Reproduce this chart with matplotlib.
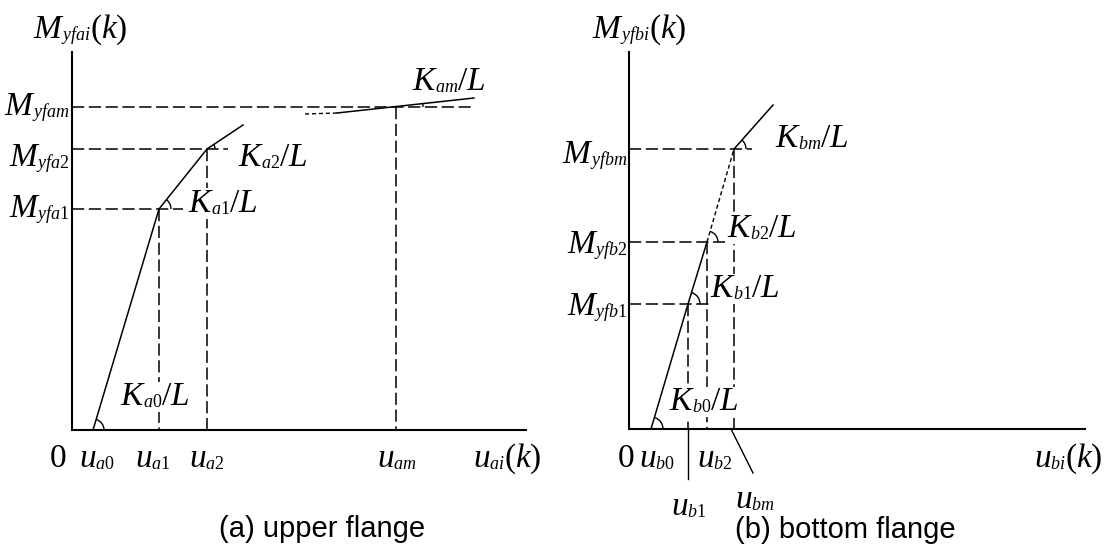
import numpy as np
import matplotlib
matplotlib.use('Agg')
import matplotlib.pyplot as plt
from matplotlib.patches import Arc, Rectangle
from matplotlib.transforms import offset_copy, Bbox

plt.rcParams['font.family'] = 'Liberation Serif'
plt.rcParams['mathtext.fontset'] = 'custom'
plt.rcParams['mathtext.rm'] = 'Liberation Serif'
plt.rcParams['mathtext.it'] = 'Liberation Serif:italic'

# upper flange: u_a0, u_a1, u_a2, u_am and M_yfa1, M_yfa2, M_yfam
u_a = [2.1, 8.7, 13.5, 32.4]
M_a = [22.1, 28.1, 32.3]
a_tail = [17.1, 30.5]                 # end of the K_a2 branch
am_u = [23.3, 26.5, 40.2]             # K_am branch (dotted part, then solid)
am_M = [31.6, 31.7, 33.2]
a_guide = [11.1, 15.6, 40.1]          # right end of the horizontal dashes

# bottom flange: u_b0, u_b1, u_b2, u_bm and M_yfb1, M_yfb2, M_yfbm
u_b = [2.2, 5.9, 7.8, 10.5]
M_b = [12.5, 18.7, 28.0]
b_tail = [14.4, 32.4]
b_guide = [8.2, 9.6, 12.3]

BIG, SUB = 24, 13
KERN = {'M': -3.0, 'K': -2.5, 'u': -1.2}   # pull the subscript under the letter
dash = (0, (8, 3))
short = (0, (3, 2))

fig = plt.figure(figsize=(11.07, 5.46), dpi=100)
renderer = fig.canvas.get_renderer()


def setup(ax, xmax, ymax):
    ax.set_xlim(0, xmax)
    ax.set_ylim(0, ymax)
    for s in ['top', 'right']:
        ax.spines[s].set_visible(False)
    for s in ['left', 'bottom']:
        ax.spines[s].set_linewidth(1.5)
    ax.set_xticks([])
    ax.set_yticks([])
    ax.patch.set_alpha(0)


def ang(p, q):
    return np.degrees(np.arctan2(q[1] - p[1], q[0] - p[0]))


def arc(ax, p, r, a):
    ax.add_patch(Arc(p, 2 * r, 2 * r, theta1=0, theta2=a, lw=1.0, color='black'))


def label(ax, x, y, main, sub, rest='', ha='left', blank=False):
    # big letter, small subscript, then the rest at full size
    parts = [(f'${main}$', BIG, 0), (f'${sub}$', SUB, -1.5)]
    if rest:
        parts.append((f'${rest}$', BIG, 0))
    widths = []
    for i, (s, size, dy) in enumerate(parts):
        t = ax.text(0, 0, s, fontsize=size)
        w = t.get_window_extent(renderer).width * 72 / fig.dpi
        t.remove()
        if i == 0:
            w += KERN[main]
        elif i == 1:
            w -= 0.5
        widths.append(w)
    off = {'left': 0, 'center': -sum(widths) / 2, 'right': -sum(widths)}[ha]
    arts = []
    for (s, size, dy), w in zip(parts, widths):
        tr = offset_copy(ax.transData, fig=fig, x=off, y=dy, units='points')
        arts.append(ax.text(x, y, s, fontsize=size, va='baseline', ha='left',
                            transform=tr, clip_on=False, zorder=3))
        off += w
    if blank:
        bb = Bbox.union([a.get_window_extent(renderer) for a in arts])
        bb = bb.transformed(ax.transData.inverted())
        ax.add_patch(Rectangle((bb.x0, bb.y0), bb.width, bb.height, fc='white',
                               ec='none', zorder=2.5, clip_on=False))


# ---- (a) upper flange ----
ax = fig.add_axes([72 / 1107, 116 / 546, 454 / 1107, 378 / 546])
setup(ax, 45.4, 37.8)
pa = [(u_a[0], 0), (u_a[1], M_a[0]), (u_a[2], M_a[1])]
ax.plot([pa[0][0], pa[1][0], pa[2][0], a_tail[0]],
        [pa[0][1], pa[1][1], pa[2][1], a_tail[1]], color='black', lw=1.1)
ax.plot(am_u[:2], am_M[:2], color='black', lw=1.0, linestyle=short)
ax.plot(am_u[1:], am_M[1:], color='black', lw=1.1)
for m, g in zip(M_a, a_guide):
    ax.plot([0, g], [m, m], color='black', lw=1.1, linestyle=dash)
for u, m in zip(u_a[1:], M_a):
    ax.plot([u, u], [m, 0], color='black', lw=1.1, linestyle=dash)

arc(ax, pa[0], 1.1, ang(pa[0], pa[1]))
arc(ax, pa[1], 1.2, ang(pa[1], pa[2]))
arc(ax, pa[2], 0.8, ang(pa[2], a_tail))
arc(ax, (u_a[3], M_a[2]), 2.7, ang((am_u[1], am_M[1]), (am_u[2], am_M[2])))

label(ax, -3.9, 39.2, 'M', 'yfai', '(k)')
for m, s, dy in zip(M_a, ['yfa1', 'yfa2', 'yfam'], [-0.8, -1.7, -0.8]):
    label(ax, -0.3, m + dy, 'M', s, ha='right')
label(ax, 4.8, 2.5, 'K', 'a0', '/L', blank=True)
label(ax, 11.6, 21.8, 'K', 'a1', '/L', blank=True)
label(ax, 16.6, 26.4, 'K', 'a2', '/L', blank=True)
label(ax, 34.0, 34.0, 'K', 'am', '/L')
ax.text(-1.4, -3.7, '0', fontsize=BIG, ha='center', va='baseline', clip_on=False)
for u, s, dx in zip(u_a, ['a0', 'a1', 'a2', 'am'], [0.3, -0.65, -0.1, 0.0]):
    label(ax, u + dx, -3.7, 'u', s, ha='center')
label(ax, 43.5, -3.7, 'u', 'ai', '(k)', ha='center')

# ---- (b) bottom flange ----
bx = fig.add_axes([629 / 1107, 117 / 546, 456 / 1107, 377 / 546])
setup(bx, 45.6, 37.7)
pb = [(u_b[0], 0), (u_b[1], M_b[0]), (u_b[2], M_b[1]), (u_b[3], M_b[2])]
bx.plot([pb[0][0], pb[1][0], pb[2][0]], [pb[0][1], pb[1][1], pb[2][1]],
        color='black', lw=1.1)
bx.plot([pb[2][0], pb[3][0]], [pb[2][1], pb[3][1]], color='black', lw=1.0, linestyle=short)
bx.plot([pb[3][0], b_tail[0]], [pb[3][1], b_tail[1]], color='black', lw=1.1)
for m, g in zip(M_b, b_guide):
    bx.plot([0, g], [m, m], color='black', lw=1.1, linestyle=dash)
for u, m in zip(u_b[1:], M_b):
    bx.plot([u, u], [m, 0], color='black', lw=1.1, linestyle=dash)
# leaders to the labels below the axis
bx.plot([u_b[1], u_b[1]], [0, -5.0], color='black', lw=1.0, clip_on=False)
bx.plot([u_b[3] - 0.3, u_b[3] + 1.9], [0, -4.4], color='black', lw=1.0, clip_on=False)

arc(bx, pb[0], 1.2, ang(pb[0], pb[1]))
arc(bx, pb[1], 1.2, ang(pb[1], pb[2]))
arc(bx, pb[2], 1.1, ang(pb[2], pb[3]))
arc(bx, pb[3], 1.2, ang(pb[3], b_tail))

label(bx, -3.7, 39.1, 'M', 'yfbi', '(k)')
for m, s, dy in zip(M_b, ['yfb1', 'yfb2', 'yfbm'], [-1.1, -1.1, -1.4]):
    label(bx, -0.2, m + dy, 'M', s, ha='right')
label(bx, 4.0, 1.9, 'K', 'b0', '/L', blank=True)
label(bx, 8.1, 13.2, 'K', 'b1', '/L', blank=True)
label(bx, 9.8, 19.2, 'K', 'b2', '/L', blank=True)
label(bx, 14.6, 28.2, 'K', 'bm', '/L')
bx.text(-0.3, -3.8, '0', fontsize=BIG, ha='center', va='baseline', clip_on=False)
label(bx, u_b[0] + 0.5, -3.8, 'u', 'b0', ha='center')
label(bx, u_b[1], -8.6, 'u', 'b1', ha='center')
label(bx, u_b[2] + 0.75, -3.8, 'u', 'b2', ha='center')
label(bx, u_b[3] + 2.0, -7.9, 'u', 'bm', ha='center')
label(bx, 43.9, -3.8, 'u', 'bi', '(k)', ha='center')

fig.text(322 / 1107, 9 / 546, '(a) upper flange', fontsize=21,
         family='Liberation Sans', ha='center', va='baseline')
fig.text(845 / 1107, 8 / 546, '(b) bottom flange', fontsize=21,
         family='Liberation Sans', ha='center', va='baseline')

fig.savefig('out.png', dpi=100)
